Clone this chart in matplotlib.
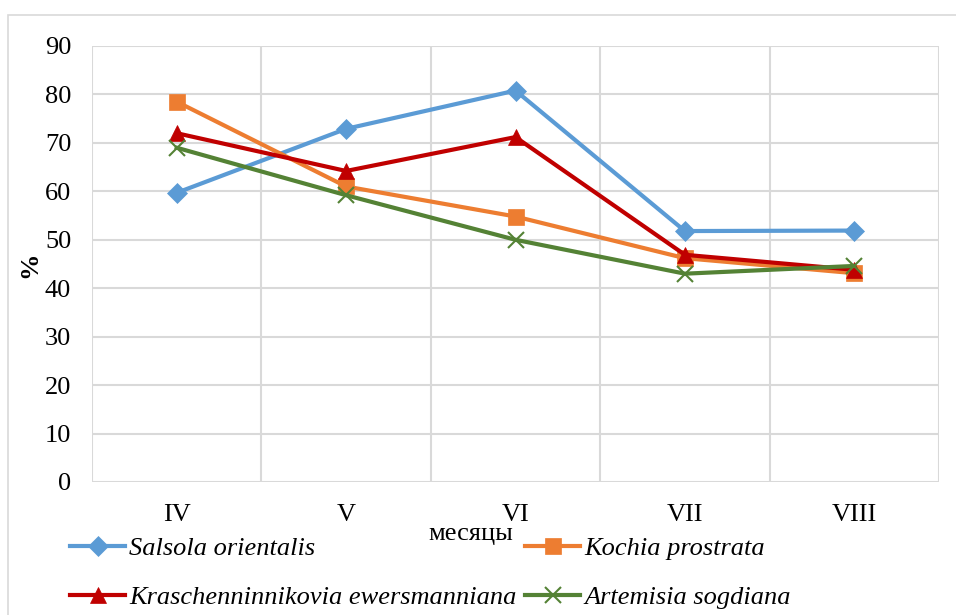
import matplotlib
matplotlib.use("Agg")
import matplotlib.pyplot as plt
from matplotlib.patches import Rectangle

months = ["IV", "V", "VI", "VII", "VIII"]
salsola = [59.7, 72.9, 80.8, 51.8, 51.9]
kochia = [78.5, 61.0, 54.8, 46.2, 43.1]
krasch = [72.0, 64.2, 71.2, 46.9, 43.8]
artemisia = [69.0, 59.2, 50.0, 43.0, 44.6]
series_names = ["Salsola orientalis", "Kochia prostrata",
                "Kraschenninnikovia ewersmanniana", "Artemisia sogdiana"]

plt.rcParams['font.family'] = ['Liberation Serif', 'DejaVu Serif']

W, H = 956, 615
fig = plt.figure(figsize=(W / 100, H / 100), dpi=100)
fig.patches.append(Rectangle((8 / W, -0.1), 1.2, (H - 15) / H + 0.1, transform=fig.transFigure,
                             fill=False, edgecolor='#d9d9d9', linewidth=1.2))
ax = fig.add_axes([92 / W, (H - 482) / H, (939 - 92) / W, (482 - 46) / H])

x = list(range(len(months)))
styles = [
    (salsola, '#5b9bd5', 'D', 10),
    (kochia, '#ed7d31', 's', 11),
    (krasch, '#c00000', '^', 12),
    (artemisia, '#548235', 'x', 11),
]
handles = []
for (vals, col, mk, ms), name in zip(styles, series_names):
    h, = ax.plot(x, vals, color=col, linewidth=3, marker=mk, markersize=ms,
                 markeredgewidth=1.5 if mk == 'x' else 0.5, markeredgecolor=col,
                 markerfacecolor=col, label=name, zorder=3)
    handles.append(h)

ax.set_xlim(-0.5, 4.5)
ax.set_ylim(0, 90)
ax.set_yticks(range(0, 91, 10))
ax.set_xticks(x)
ax.set_xticklabels(months)
ax.set_xticks([-0.5, 0.5, 1.5, 2.5, 3.5, 4.5], minor=True)
ax.grid(True, which='major', axis='y', color='#d9d9d9', linewidth=1.5)
ax.grid(True, which='minor', axis='x', color='#d9d9d9', linewidth=1.5)
ax.tick_params(which='both', length=0, labelsize=19)
ax.tick_params(axis='x', pad=16)
ax.tick_params(axis='y', pad=15)
for s in ax.spines.values():
    s.set_visible(False)
ax.set_axisbelow(True)

fig.text(30 / W, 1 - 265 / H, '%', fontsize=19, fontweight='bold', rotation=90,
         ha='center', va='center')
fig.text(471 / W, 1 - 534 / H, 'месяцы', fontsize=19, ha='center', va='center')

legprops = dict(loc='upper left', ncol=1, frameon=False,
                prop={'style': 'italic', 'size': 19},
                handlelength=2.1, handletextpad=0.15, labelspacing=0.95,
                borderaxespad=0, borderpad=0)
leg1 = fig.legend(handles=[handles[0], handles[2]], bbox_to_anchor=(70 / W, 1 - 537 / H), **legprops)
leg2 = fig.legend(handles=[handles[1], handles[3]], bbox_to_anchor=(525 / W, 1 - 537 / H), **legprops)

fig.savefig('out.png', dpi=100)
